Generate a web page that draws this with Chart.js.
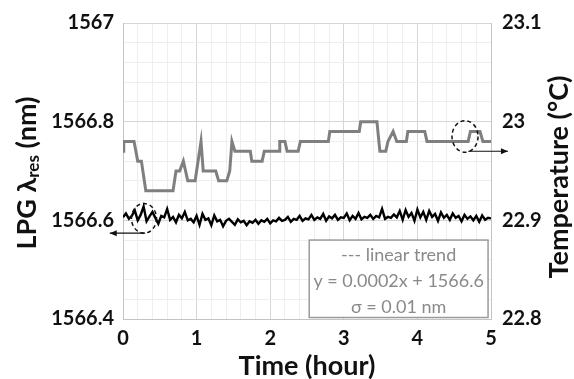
<!DOCTYPE html>
<html>
<head>
<meta charset="utf-8">
<script src="https://cdn.jsdelivr.net/npm/chart.js@4"></script>
<style>
	html, body { margin: 0; padding: 0; background: #fff; }
	#chart { display: block; }
</style>
</head>
<body>
<canvas id="chart" width="574" height="379"></canvas>
<script>
// temperature (right axis), step-like trace
const tempTime = [0, 0.01, 0.15, 0.2, 0.25, 0.31, 0.68, 0.72, 0.77, 0.82, 0.88, 0.98, 1.0, 1.06, 1.09,
	1.26, 1.3, 1.41, 1.45, 1.48, 1.52, 1.73, 1.75, 1.89, 1.92, 2.12, 2.13, 2.2, 2.23, 2.38, 2.41,
	2.79, 2.81, 3.21, 3.23, 3.45, 3.49, 3.57, 3.6, 3.67, 3.72, 3.85, 3.87, 4.1, 4.13, 4.69, 4.72,
	4.85, 4.89, 5.0];
const tempValues = [22.97, 22.98, 22.98, 22.96, 22.96, 22.93, 22.93, 22.95, 22.95, 22.96, 22.94, 22.94, 22.95, 22.98, 22.95,
	22.95, 22.94, 22.94, 22.95, 22.98, 22.97, 22.97, 22.96, 22.96, 22.97, 22.97, 22.98, 22.98, 22.97, 22.97, 22.98,
	22.98, 22.99, 22.99, 23.0, 23.0, 22.97, 22.97, 22.98, 22.99, 22.98, 22.98, 22.99, 22.99, 22.98, 22.98, 22.99,
	22.99, 22.98, 22.98];

// LPG resonance wavelength (left axis), noisy trace
const lpgTime = [0, 0.04, 0.08, 0.12, 0.16, 0.2, 0.24, 0.28, 0.32, 0.36, 0.4, 0.44, 0.48, 0.52, 0.56, 0.6,
	0.64, 0.68, 0.72, 0.76, 0.8, 0.84, 0.88, 0.92, 0.96, 1.0, 1.04, 1.08, 1.12, 1.16, 1.2, 1.24,
	1.28, 1.32, 1.36, 1.4, 1.44, 1.48, 1.52, 1.56, 1.6, 1.64, 1.68, 1.72, 1.76, 1.8, 1.84, 1.88,
	1.92, 1.96, 2.0, 2.04, 2.08, 2.12, 2.16, 2.2, 2.24, 2.28, 2.32, 2.36, 2.4, 2.44, 2.48, 2.52,
	2.56, 2.6, 2.64, 2.68, 2.72, 2.76, 2.8, 2.84, 2.88, 2.92, 2.96, 3.0, 3.04, 3.08, 3.12, 3.16,
	3.2, 3.24, 3.28, 3.32, 3.36, 3.4, 3.44, 3.48, 3.52, 3.56, 3.6, 3.64, 3.68, 3.72, 3.76, 3.8,
	3.84, 3.88, 3.92, 3.96, 4.0, 4.04, 4.08, 4.12, 4.16, 4.2, 4.24, 4.28, 4.32, 4.36, 4.4, 4.44,
	4.48, 4.52, 4.56, 4.6, 4.64, 4.68, 4.72, 4.76, 4.8, 4.84, 4.88, 4.92, 4.96, 5.0];
const lpgValues = [1566.606, 1566.614, 1566.603, 1566.609, 1566.620, 1566.600, 1566.611, 1566.628, 1566.598, 1566.608, 1566.617, 1566.605, 1566.593, 1566.609, 1566.606, 1566.623,
	1566.601, 1566.607, 1566.596, 1566.611, 1566.604, 1566.617, 1566.600, 1566.603, 1566.596, 1566.609, 1566.591, 1566.613, 1566.601, 1566.604, 1566.590, 1566.610,
	1566.598, 1566.601, 1566.588, 1566.599, 1566.603, 1566.597, 1566.591, 1566.602, 1566.596, 1566.599, 1566.590, 1566.598, 1566.595, 1566.601, 1566.593, 1566.600,
	1566.597, 1566.603, 1566.594, 1566.600, 1566.598, 1566.605, 1566.599, 1566.601, 1566.607, 1566.597, 1566.603, 1566.601, 1566.609, 1566.599, 1566.604, 1566.602,
	1566.611, 1566.601, 1566.606, 1566.603, 1566.613, 1566.599, 1566.608, 1566.604, 1566.611, 1566.601, 1566.606, 1566.605, 1566.614, 1566.600, 1566.609, 1566.603,
	1566.615, 1566.602, 1566.607, 1566.605, 1566.611, 1566.603, 1566.609, 1566.606, 1566.623, 1566.603, 1566.607, 1566.605, 1566.612, 1566.606, 1566.619, 1566.601,
	1566.621, 1566.607, 1566.615, 1566.599, 1566.622, 1566.606, 1566.617, 1566.601, 1566.619, 1566.607, 1566.613, 1566.599, 1566.616, 1566.605, 1566.611, 1566.601,
	1566.614, 1566.605, 1566.609, 1566.598, 1566.611, 1566.603, 1566.608, 1566.600, 1566.609, 1566.597, 1566.610, 1566.601, 1566.605, 1566.604];

const boxLines = ['--- linear trend', 'y = 0.0002x + 1566.6', 'σ = 0.01 nm'];

const TICK_FONT = { family: 'Lato, "Liberation Sans", sans-serif', size: 20, weight: 'bold' };
const TITLE_FONT = 'bold 27px Lato, "DejaVu Sans", sans-serif';

function isMultiple(v, step) {
	const r = v / step;
	return Math.abs(r - Math.round(r)) < 1e-4;
}

function drawArrow(ctx, x1, y1, x2, y2) {
	ctx.beginPath();
	ctx.moveTo(x1, y1);
	ctx.lineTo(x2, y2);
	ctx.stroke();
	const a = Math.atan2(y2 - y1, x2 - x1);
	ctx.beginPath();
	ctx.moveTo(x2, y2);
	ctx.lineTo(x2 - 7 * Math.cos(a) + 3 * Math.sin(a), y2 - 7 * Math.sin(a) - 3 * Math.cos(a));
	ctx.lineTo(x2 - 7 * Math.cos(a) - 3 * Math.sin(a), y2 - 7 * Math.sin(a) + 3 * Math.cos(a));
	ctx.closePath();
	ctx.fill();
}

function drawRotated(ctx, cx, cy, parts) {
	ctx.save();
	ctx.translate(cx, cy);
	ctx.rotate(-Math.PI / 2);
	ctx.textBaseline = 'middle';
	ctx.textAlign = 'left';
	let total = 0;
	parts.forEach(p => { ctx.font = p.font; total += ctx.measureText(p.text).width; });
	let x = -total / 2;
	parts.forEach(p => {
		ctx.font = p.font;
		ctx.fillText(p.text, x, p.dy || 0);
		x += ctx.measureText(p.text).width;
	});
	ctx.restore();
}

const overlays = {
	id: 'overlays',
	afterDatasetsDraw(chart) {
		const { ctx, scales: { x, y, y1 } } = chart;
		ctx.save();

		// text box
		const bx1 = x.getPixelForValue(2.53), bx2 = x.getPixelForValue(4.96);
		const by1 = y.getPixelForValue(1566.56), by2 = y.getPixelForValue(1566.403);
		ctx.fillStyle = '#fff';
		ctx.fillRect(bx1, by1, bx2 - bx1, by2 - by1);
		ctx.strokeStyle = '#9a9a9a';
		ctx.lineWidth = 1.5;
		ctx.strokeRect(bx1, by1, bx2 - bx1, by2 - by1);
		ctx.fillStyle = '#8a8a8a';
		ctx.font = '18px Lato, "DejaVu Sans", sans-serif';
		ctx.textAlign = 'center';
		ctx.textBaseline = 'middle';
		const mid = (bx1 + bx2) / 2;
		boxLines.forEach((t, i) => ctx.fillText(t, mid, by1 + 15 + i * 26));

		// dashed circles
		ctx.strokeStyle = '#111';
		ctx.fillStyle = '#111';
		ctx.lineWidth = 1.5;
		ctx.setLineDash([4, 3]);
		const lcx = x.getPixelForValue(0.285), lcy = y.getPixelForValue(1566.604);
		const lrx = x.getPixelForValue(0.455) - lcx, lry = lcy - y.getPixelForValue(1566.634);
		ctx.beginPath();
		ctx.ellipse(lcx, lcy, lrx, lry, 0, 0, Math.PI * 2);
		ctx.stroke();
		const rcx = x.getPixelForValue(4.647), rcy = y1.getPixelForValue(22.985);
		const rrx = x.getPixelForValue(4.824) - rcx, rry = rcy - y1.getPixelForValue(23.001);
		ctx.beginPath();
		ctx.ellipse(rcx, rcy, rrx, rry, 0, 0, Math.PI * 2);
		ctx.stroke();
		ctx.setLineDash([]);

		// arrows pointing to the axis each trace belongs to
		ctx.lineWidth = 1.2;
		const ay = y.getPixelForValue(1566.574);
		drawArrow(ctx, x.getPixelForValue(0.3), ay, x.getPixelForValue(-0.18), ay);
		const ry = y1.getPixelForValue(22.97);
		drawArrow(ctx, x.getPixelForValue(4.69), ry, x.getPixelForValue(5.23), ry);
		ctx.restore();
	},
	afterDraw(chart) {
		const { ctx, chartArea } = chart;
		const cy = (chartArea.top + chartArea.bottom) / 2;
		ctx.save();
		ctx.fillStyle = '#111';
		drawRotated(ctx, 27, cy + 2, [
			{ text: 'LPG λ', font: TITLE_FONT },
			{ text: 'res', font: 'bold 17px Lato, "DejaVu Sans", sans-serif', dy: 7 },
			{ text: ' (nm)', font: TITLE_FONT }
		]);
		drawRotated(ctx, 559, cy + 6, [{ text: 'Temperature (°C)', font: TITLE_FONT }]);
		ctx.font = TITLE_FONT;
		ctx.textAlign = 'center';
		ctx.textBaseline = 'middle';
		ctx.fillText('Time (hour)', (chartArea.left + chartArea.right) / 2, 366);
		ctx.restore();
	}
};

function buildChart() {
	const ctx = document.getElementById('chart').getContext('2d');
	new Chart(ctx, {
		type: 'line',
		data: {
			datasets: [{
				label: 'Temperature',
				data: tempTime.map((t, i) => ({ x: t, y: tempValues[i] })),
				yAxisID: 'y1',
				borderColor: '#7f7f7f',
				borderWidth: 3,
				pointRadius: 0,
				tension: 0
			}, {
				label: 'LPG',
				data: lpgTime.map((t, i) => ({ x: t, y: lpgValues[i] })),
				yAxisID: 'y',
				borderColor: '#000',
				borderWidth: 2.4,
				pointRadius: 0,
				tension: 0
			}]
		},
		options: {
			responsive: false,
			animation: false,
			devicePixelRatio: 1,
			layout: { padding: { top: 22, left: 0, right: 0, bottom: 0 } },
			plugins: { legend: { display: false }, tooltip: { enabled: false } },
			scales: {
				x: {
					type: 'linear',
					min: 0,
					max: 5,
					afterFit: s => { s.height = 60; },
					border: { color: '#c4c4c4' },
					grid: {
						drawTicks: false,
						color: c => isMultiple(c.tick.value, 1) ? '#d6d6d6' : '#eeeeee'
					},
					ticks: {
						stepSize: 0.2,
						autoSkip: false,
						maxRotation: 0,
						padding: 8,
						color: '#111',
						font: TICK_FONT,
						callback: v => isMultiple(v, 1) ? String(Math.round(v)) : ''
					}
				},
				y: {
					position: 'left',
					min: 1566.4,
					max: 1567,
					afterFit: s => { s.width = 123; },
					border: { color: '#c4c4c4' },
					grid: {
						drawTicks: false,
						color: c => isMultiple(c.tick.value - 1566.4, 0.2) ? '#d6d6d6' : '#eeeeee'
					},
					ticks: {
						stepSize: 0.04,
						autoSkip: false,
						padding: 9,
						color: '#111',
						font: TICK_FONT,
						callback: v => isMultiple(v - 1566.4, 0.2) ? String(Number(v.toFixed(1))) : ''
					}
				},
				y1: {
					position: 'right',
					min: 22.8,
					max: 23.1,
					afterFit: s => { s.width = 83; },
					border: { color: '#c4c4c4' },
					grid: { drawOnChartArea: false, drawTicks: false },
					ticks: {
						stepSize: 0.1,
						padding: 11,
						color: '#111',
						font: TICK_FONT,
						callback: v => String(Number(v.toFixed(1)))
					}
				}
			}
		},
		plugins: [overlays]
	});
}

window.addEventListener('DOMContentLoaded', buildChart);
</script>
</body>
</html>
